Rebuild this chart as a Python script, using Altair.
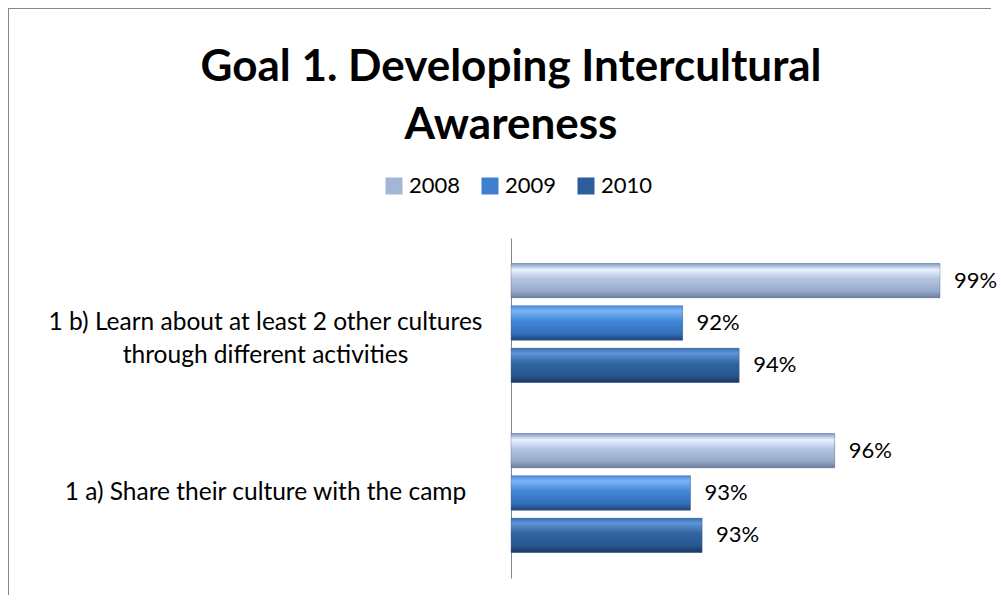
import altair as alt
import pandas as pd

categories = [
    "1 b) Learn about at least 2 other cultures|through different activities",
    "1 a) Share their culture with the camp",
]
years = ["2008", "2009", "2010"]
v2008 = [0.99, 0.963]
v2009 = [0.924, 0.926]
v2010 = [0.9385, 0.929]
AXIS_MIN = 0.88
AXIS_MAX = 1.0

rows = []
for yr, vals in zip(years, [v2008, v2009, v2010]):
    for c, v in zip(categories, vals):
        rows.append({"category": c, "year": yr, "value": v, "start": AXIS_MIN})
df = pd.DataFrame(rows)

solid = ["#a4b5d6", "#3f7fcf", "#2c5d9c"]
grads = {
    "2008": [("#7f9bc8", 0.0), ("#e9f1fd", 0.18), ("#b4c4e2", 0.45), ("#98aacb", 0.8), ("#6d7d9c", 1.0)],
    "2009": [("#4f8ee0", 0.0), ("#7ab4f5", 0.15), ("#4286d6", 0.45), ("#3470bd", 0.8), ("#1f4477", 1.0)],
    "2010": [("#3b70b8", 0.0), ("#5d94d8", 0.15), ("#30649f", 0.45), ("#285791", 0.8), ("#1a3563", 1.0)],
}

FONT = "Lato"

y_enc = alt.Y(
    "category:N",
    sort=categories,
    scale=alt.Scale(paddingInner=0.3, paddingOuter=0.15),
    axis=alt.Axis(
        title=None,
        labelExpr="split(datum.label, '|')",
        labelAlign="center",
        labelBaseline="middle",
        labelPadding=246,
        labelFontSize=24.5,
        labelFont=FONT,
        labelColor="#000000",
        labelLineHeight=33,
        labelLimit=0,
        ticks=False,
        tickSize=0,
        domainColor="#868686",
        domainWidth=1,
        grid=False,
    ),
)
yoff = alt.YOffset("year:N", sort=years, scale=alt.Scale(paddingInner=0.19, paddingOuter=0))
x_enc = alt.X("value:Q", scale=alt.Scale(domain=[AXIS_MIN, AXIS_MAX], zero=False, nice=False), axis=None)

base = alt.Chart(df)

bars = base.mark_bar(cornerRadius=0).encode(
    x=x_enc,
    x2="start:Q",
    y=y_enc,
    yOffset=yoff,
    color=alt.Color(
        "year:N",
        sort=years,
        scale=alt.Scale(domain=years, range=solid),
        legend=alt.Legend(
            title=None,
            orient="none",
            legendX=-128,
            legendY=-63,
            direction="horizontal",
            symbolType="square",
            symbolSize=289,
            symbolStrokeWidth=0,
            labelFontSize=22,
            labelFont=FONT,
            labelColor="#000000",
            columnPadding=18,
            labelOffset=4,
        ),
    ),
)

grad_layers = []
for yr in years:
    g = alt.Gradient(
        gradient="linear",
        stops=[alt.GradientStop(color=c, offset=o) for c, o in grads[yr]],
        x1=0, x2=0, y1=0, y2=1,
    )
    grad_layers.append(
        base.transform_filter(alt.datum.year == yr)
        .mark_bar(fill=g, stroke="#4a5a78", strokeWidth=0.6, strokeOpacity=0.6)
        .encode(x=x_enc, x2="start:Q", y=y_enc, yOffset=yoff)
    )

labels = base.mark_text(align="left", baseline="middle", dx=14, fontSize=22, font=FONT, color="#000000").encode(
    x=x_enc,
    y=y_enc,
    yOffset=yoff,
    text=alt.Text("value:Q", format=".0%"),
)

border_left = alt.Chart(df).mark_rule(color="#868686", strokeWidth=1).encode(
    x=alt.value(-502.5), y=alt.value(-229.5), y2=alt.value(360)
)
border_top = alt.Chart(df).mark_rule(color="#868686", strokeWidth=1).encode(
    x=alt.value(-502.5), x2=alt.value(480), y=alt.value(-229.5)
)

chart = alt.layer(bars, *grad_layers, labels, border_left, border_top).properties(
    width=468,
    height=340,
    title=alt.TitleParams(
        text=["Goal 1. Developing Intercultural", "Awareness"],
        font=FONT,
        fontSize=44,
        fontWeight="bold",
        color="#000000",
        anchor="middle",
        dx=-234,
        lineHeight=58,
        offset=-140,
    ),
    autosize=alt.AutoSizeParams(type="none"),
    padding={"left": 503, "top": 230, "right": 18, "bottom": 17},
).configure_view(stroke=None)

chart.save("out.html", embed_options={"renderer": "svg", "actions": False})
